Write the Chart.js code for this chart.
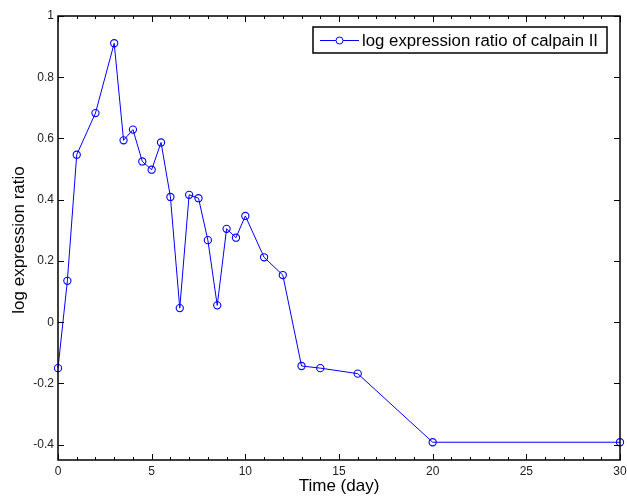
<!DOCTYPE html>
<html>
<head>
<meta charset="utf-8">
<script src="https://cdn.jsdelivr.net/npm/chart.js@4"></script>
<style>
html, body { margin: 0; padding: 0; background: #fff; }
#wrap { width: 627px; height: 496px; }
</style>
</head>
<body>
<div id="wrap"><canvas id="myChart"></canvas></div>
<script>
// data
var days = [0, 0.5, 1, 2, 3, 3.5, 4, 4.5, 5, 5.5, 6, 6.5, 7, 7.5, 8, 8.5, 9, 9.5, 10, 11, 12, 13, 14, 16, 20, 30];
var ratios = [-0.150, 0.135, 0.547, 0.683, 0.911, 0.594, 0.629, 0.525, 0.498, 0.587, 0.409, 0.046, 0.416, 0.405, 0.268, 0.055, 0.305, 0.276, 0.347, 0.212, 0.154, -0.143, -0.150, -0.168, -0.392, -0.392];
var xTicks = [0, 5, 10, 15, 20, 25, 30];
var yTicks = [-0.4, -0.2, 0, 0.2, 0.4, 0.6, 0.8, 1];
var seriesLabel = 'log expression ratio of calpain II';
var xTitle = 'Time (day)';
var yTitle = 'log expression ratio';

var font = '"Liberation Sans", Arial, sans-serif';

// matlab-like frame, inward ticks, labels and legend
var matlabAxes = {
    id: 'matlabAxes',
    afterDraw: function(chart) {
        var c = chart.ctx;
        var a = chart.chartArea;
        var xs = chart.scales.x, ys = chart.scales.y;
        c.save();
        c.strokeStyle = '#000';
        c.lineWidth = 1.5;
        c.strokeRect(a.left, a.top, a.right - a.left, a.bottom - a.top);

        c.lineWidth = 1;
        c.beginPath();
        // minor x ticks
        for (var m = xs.min; m <= xs.max; m++) {
            var px = Math.round(xs.getPixelForValue(m)) + 0.5;
            var len = (m % 5 === 0) ? 6 : 3;
            c.moveTo(px, a.bottom); c.lineTo(px, a.bottom - len);
            c.moveTo(px, a.top); c.lineTo(px, a.top + len);
        }
        yTicks.forEach(function(v) {
            var py = Math.round(ys.getPixelForValue(v)) + 0.5;
            c.moveTo(a.left, py); c.lineTo(a.left + 6, py);
            c.moveTo(a.right, py); c.lineTo(a.right - 6, py);
        });
        c.stroke();

        c.fillStyle = '#222';
        c.font = '12px ' + font;
        c.textAlign = 'center';
        c.textBaseline = 'top';
        xTicks.forEach(function(v) {
            c.fillText(String(v), xs.getPixelForValue(v), a.bottom + 6);
        });
        c.textAlign = 'right';
        c.textBaseline = 'middle';
        yTicks.forEach(function(v) {
            c.fillText(String(v), a.left - 4, ys.getPixelForValue(v));
        });

        c.fillStyle = '#000';
        c.font = '17px ' + font;
        c.textAlign = 'center';
        c.textBaseline = 'alphabetic';
        c.fillText(xTitle, (a.left + a.right) / 2, 491);
        c.save();
        c.translate(24, 240);
        c.rotate(-Math.PI / 2);
        c.fillText(yTitle, 0, 0);
        c.restore();

        // legend box
        var bx = 313, by = 27, bw = 294, bh = 26;
        c.fillStyle = '#fff';
        c.fillRect(bx, by, bw, bh);
        c.strokeStyle = '#000';
        c.lineWidth = 1.5;
        c.strokeRect(bx, by, bw, bh);
        c.strokeStyle = '#0000ff';
        c.lineWidth = 1;
        c.beginPath();
        c.moveTo(320, 40.5); c.lineTo(359, 40.5);
        c.stroke();
        c.beginPath();
        c.arc(339.5, 40.5, 3.5, 0, Math.PI * 2);
        c.fillStyle = '#fff';
        c.fill();
        c.stroke();
        c.fillStyle = '#000';
        c.font = '16.8px ' + font;
        c.textAlign = 'left';
        c.textBaseline = 'middle';
        c.fillText(seriesLabel, 362, 41);
        c.restore();
    }
};

var ctx = document.getElementById('myChart').getContext('2d');
var chart = new Chart(ctx, {
    type: 'scatter',
    data: {
        datasets: [{
            label: seriesLabel,
            data: days.map(function(d, i) { return { x: d, y: ratios[i] }; }),
            showLine: true,
            borderColor: '#0000ff',
            borderWidth: 1,
            pointRadius: 3.6,
            pointBorderWidth: 1.1,
            pointBackgroundColor: 'rgba(0,0,0,0)',
            pointBorderColor: '#0000ff',
            clip: false
        }]
    },
    options: {
        responsive: true,
        maintainAspectRatio: false,
        animation: false,
        layout: { padding: { left: 58, right: 7, top: 16, bottom: 36 } },
        plugins: { legend: { display: false }, tooltip: { enabled: false } },
        scales: {
            x: { type: 'linear', min: 0, max: 30, display: false },
            y: { type: 'linear', min: -0.45, max: 1, display: false }
        }
    },
    plugins: [matlabAxes]
});
</script>
</body>
</html>
